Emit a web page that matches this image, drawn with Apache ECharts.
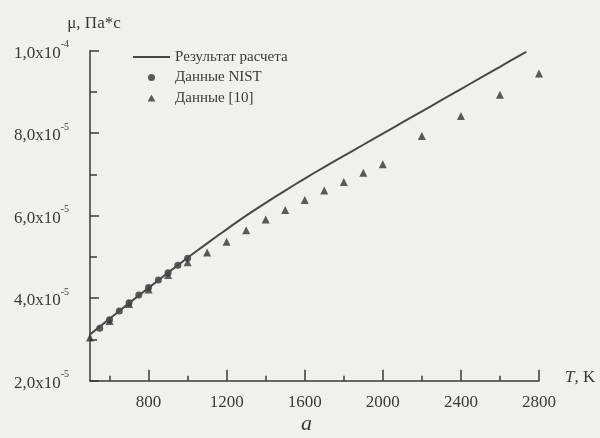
<!DOCTYPE html>
<html><head><meta charset="utf-8">
<script src="https://cdn.jsdelivr.net/npm/echarts@6/dist/echarts.min.js"></script>
<style>html,body{margin:0;padding:0;background:#f0f0ee}#c{width:600px;height:438px}</style>
</head><body><div id="c"></div>
<script>
// Values in units of 1e-5 Pa*s
const calcT    = [500,600,700,800,900,1000,1100,1200,1300,1400,1500,1600,1700,1800,1900,2000,2100,2200,2300,2400,2500,2600,2700,2735];
const calcMu   = [3.12,3.50,3.88,4.25,4.62,4.98,5.33,5.67,6.00,6.31,6.61,6.90,7.18,7.45,7.72,7.99,8.26,8.53,8.80,9.07,9.34,9.61,9.88,9.97];
const nistT    = [550,600,650,700,750,800,850,900,950,1000];
const nistMu   = [3.27,3.48,3.69,3.89,4.08,4.26,4.44,4.62,4.80,4.97];
const ref10T   = [500,600,700,800,900,1000,1100,1200,1300,1400,1500,1600,1700,1800,1900,2000,2200,2400,2600,2800];
const ref10Mu  = [3.05,3.45,3.86,4.21,4.56,4.87,5.11,5.37,5.65,5.91,6.14,6.38,6.61,6.82,7.04,7.25,7.93,8.42,8.93,9.45];
const xMajorTicks = [800,1200,1600,2000,2400,2800];
const xMinorTicks = [600,1000,1400,1800,2200,2600];
const yTickValues = [2,4,6,8,10];
const yTickMant   = ['2,0','4,0','6,0','8,0','1,0'];
const yTickExp    = ['-5','-5','-5','-5','-4'];
const seriesNames = ['Результат расчета','Данные NIST','Данные [10]'];

const zip = (a,b)=>a.map((v,i)=>[v,b[i]]);
const ink = '#3a3a3a';
const font = 'Liberation Serif';

const chart = echarts.init(document.getElementById('c'));
chart.setOption({
  backgroundColor:'#f0f0ee',
  animation:false,
  textStyle:{fontFamily:font,color:ink},
  grid:{left:90,right:61,top:50.7,bottom:57.3,outerBoundsMode:'none',containLabel:false},
  title:{text:'а',left:301,top:413,padding:0,textStyle:{fontFamily:font,fontStyle:'italic',fontWeight:'normal',fontSize:22,color:ink}},
  legend:{orient:'vertical',left:133,top:49,padding:0,itemWidth:37,itemHeight:7,itemGap:4.5,symbolKeepAspect:true,
    textStyle:{fontFamily:font,fontSize:15,lineHeight:16,color:ink},
    data:[
      {name:seriesNames[0],icon:'path://M0,0H37V1.8H0Z',itemStyle:{color:'#484848'}},
      {name:seriesNames[1],icon:'path://M5,0A5,5,0,1,1,5,10A5,5,0,1,1,5,0Z'},
      {name:seriesNames[2],icon:'path://M5,0L10,9L0,9Z'}
    ]},
  xAxis:[{type:'value',min:500,max:2800,
    name:'{i|T}{n|, K}',nameLocation:'end',nameGap:26,
    nameTextStyle:{padding:[0,0,7,0],rich:{i:{fontFamily:font,fontStyle:'italic',fontSize:17,color:ink},n:{fontFamily:font,fontSize:17,color:ink}}},
    axisLine:{lineStyle:{color:ink,width:1.5}},
    axisTick:{inside:true,length:11,customValues:xMajorTicks,lineStyle:{color:ink,width:1.5}},
    axisLabel:{customValues:xMajorTicks,margin:13,fontFamily:font,fontSize:17,color:ink,formatter:v=>String(v)},
    splitLine:{show:false}},
   {type:'value',min:500,max:2800,position:'bottom',
    axisLine:{show:false},
    axisTick:{inside:true,length:5,customValues:xMinorTicks,lineStyle:{color:ink,width:1.5}},
    axisLabel:{show:false},splitLine:{show:false}}],
  yAxis:{type:'value',min:2,max:10,interval:2,
    name:'μ, Па*с',nameLocation:'end',nameGap:19,
    nameTextStyle:{fontFamily:font,fontSize:17,color:ink,padding:[0,0,0,8]},
    axisLine:{lineStyle:{color:ink,width:1.5}},
    axisTick:{inside:true,length:9,lineStyle:{color:ink,width:1.5}},
    minorTick:{show:true,splitNumber:2,length:7,lineStyle:{color:ink,width:1.5}},
    splitLine:{show:false},minorSplitLine:{show:false},
    axisLabel:{margin:21,formatter:function(v){const i=yTickValues.indexOf(v);return i<0?'':'{m|'+yTickMant[i]+'x10}{s|'+yTickExp[i]+'}';},
      rich:{m:{fontFamily:font,fontSize:17,color:ink,lineHeight:22,verticalAlign:'bottom'},
            s:{fontFamily:font,fontSize:10,color:ink,lineHeight:22,verticalAlign:'top'}}}},
  series:[
    {name:seriesNames[0],type:'line',data:zip(calcT,calcMu),showSymbol:false,symbol:'none',smooth:0.3,
      lineStyle:{color:'#484848',width:2},itemStyle:{color:'#484848'}},
    {name:seriesNames[1],type:'scatter',data:zip(nistT,nistMu),symbol:'circle',symbolSize:7,itemStyle:{color:'#333'}},
    {name:seriesNames[2],type:'scatter',data:zip(ref10T,ref10Mu),symbol:'triangle',symbolSize:8,itemStyle:{color:'#333'}}
  ]
});
</script></body></html>
